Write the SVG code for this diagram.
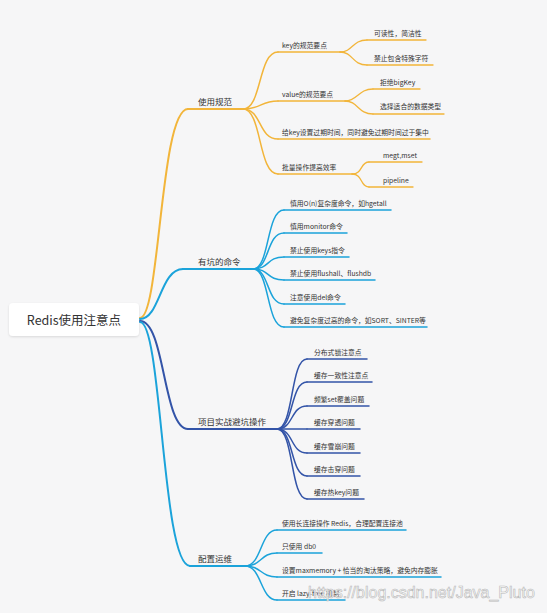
<svg xmlns="http://www.w3.org/2000/svg" width="547" height="613" viewBox="0 0 547 613">
<defs>
<filter id="sh" x="-10%" y="-30%" width="120%" height="160%">
<feDropShadow dx="0" dy="1" stdDeviation="1.2" flood-color="#000" flood-opacity="0.12"/>
</filter>
</defs>
<style>
text{font-family:"Noto Sans CJK SC","Noto Sans",sans-serif;fill:#333}
.root{font-size:12.5px;text-anchor:middle}
.l1{font-size:8.5px}
.l2{font-size:6.8px}
.c{fill:none;stroke-linecap:round}
.y{stroke:#F2B53A}
.b{stroke:#1BA3DA}
.d{stroke:#3354A8}
.m{stroke-width:2}
.s{stroke-width:1.5}
.t{stroke-width:1.3}
.wm{font-family:"Liberation Sans",Arial,sans-serif;font-size:16px;fill:#ffffff;fill-opacity:0.85;stroke:#b8b8b8;stroke-width:0.6}
</style>
<rect width="547" height="613" fill="#F6F6F7"/>

<g id="connectors">
<path class="c y m" d="M140,318 C160,318 160,109 188,109"/>
<path class="c b m" d="M140,319 C160,319 160,269 183,269"/>
<path class="c d m" d="M140,321 C165,321 163,429 188,429"/>
<path class="c b m" d="M140,322 C162,322 162,566 190,566"/>

<path class="c y s" d="M243,109 C262,109 258,52 278,52"/>
<path class="c y s" d="M243,109 C262,109 260,101 278,101"/>
<path class="c y s" d="M243,109 C262,109 258,139 278,139"/>
<path class="c y s" d="M243,109 C262,109 258,174 278,174"/>
<path class="c y t" d="M340,52 C353,52 352,40 367,40"/>
<path class="c y t" d="M340,52 C353,52 352,65 367,65"/>
<path class="c y t" d="M345,101 C358,101 358,89 373,89"/>
<path class="c y t" d="M345,101 C358,101 358,114 373,114"/>
<path class="c y t" d="M352,174 C363,174 360,162 369,162"/>
<path class="c y t" d="M352,174 C363,174 360,187 369,187"/>

<path class="c b s" d="M253,269 C270,269 266,210 284,210"/>
<path class="c b s" d="M253,269 C270,269 266,233 284,233"/>
<path class="c b s" d="M253,269 C270,269 266,257 284,257"/>
<path class="c b s" d="M253,269 C270,269 266,280 284,280"/>
<path class="c b s" d="M253,269 C270,269 266,304 284,304"/>
<path class="c b s" d="M253,269 C270,269 266,327 284,327"/>

<path class="c d s" d="M277,429 C294,429 290,359 307,359"/>
<path class="c d s" d="M277,429 C294,429 290,382 307,382"/>
<path class="c d s" d="M277,429 C294,429 290,406 307,406"/>
<path class="c d s" d="M277,429 L307,429"/>
<path class="c d s" d="M277,429 C294,429 290,453 307,453"/>
<path class="c d s" d="M277,429 C294,429 290,476 307,476"/>
<path class="c d s" d="M277,429 C294,429 290,499 307,499"/>

<path class="c b s" d="M245,566 C262,566 260,530 277,530"/>
<path class="c b s" d="M245,566 C262,566 260,553 277,553"/>
<path class="c b s" d="M245,566 C262,566 260,577 277,577"/>
<path class="c b s" d="M245,566 C262,566 260,600 277,600"/>
</g>

<g id="root">
<rect x="9" y="303" width="130" height="33" rx="4" fill="#ffffff" filter="url(#sh)"/>
<text class="root" x="74" y="324.5">Redis使用注意点</text>
</g>

<g id="b1">
<line class="c y m" x1="188" y1="109" x2="243" y2="109"/>
<text class="l1" x="198" y="105">使用规范</text>
</g>
<g id="b1-key">
<line class="c y s" x1="278" y1="52" x2="340" y2="52"/>
<text class="l2" x="282" y="48">key的规范要点</text>
</g>
<g id="b1-key-1">
<line class="c y t" x1="367" y1="40" x2="426" y2="40"/>
<text class="l2" x="374" y="36">可读性，简洁性</text>
</g>
<g id="b1-key-2">
<line class="c y t" x1="367" y1="65" x2="433" y2="65"/>
<text class="l2" x="374" y="61">禁止包含特殊字符</text>
</g>
<g id="b1-value">
<line class="c y s" x1="278" y1="101" x2="345" y2="101"/>
<text class="l2" x="282" y="97">value的规范要点</text>
</g>
<g id="b1-value-1">
<line class="c y t" x1="373" y1="89" x2="420" y2="89"/>
<text class="l2" x="380" y="85">拒绝bigKey</text>
</g>
<g id="b1-value-2">
<line class="c y t" x1="373" y1="114" x2="444" y2="114"/>
<text class="l2" x="380" y="109">选择适合的数据类型</text>
</g>
<g id="b1-expire">
<line class="c y s" x1="278" y1="139" x2="430" y2="139"/>
<text class="l2" x="282" y="135">给key设置过期时间，同时避免过期时间过于集中</text>
</g>
<g id="b1-batch">
<line class="c y s" x1="278" y1="174" x2="352" y2="174"/>
<text class="l2" x="282" y="170">批量操作提高效率</text>
</g>
<g id="b1-batch-1">
<line class="c y t" x1="369" y1="162" x2="422" y2="162"/>
<text class="l2" x="383" y="158">megt,mset</text>
</g>
<g id="b1-batch-2">
<line class="c y t" x1="369" y1="187" x2="413" y2="187"/>
<text class="l2" x="383" y="183">pipeline</text>
</g>

<g id="b2">
<line class="c b m" x1="183" y1="269" x2="253" y2="269"/>
<text class="l1" x="198" y="265">有坑的命令</text>
</g>
<g id="b2-1">
<line class="c b s" x1="284" y1="210" x2="391" y2="210"/>
<text class="l2" x="290" y="206">慎用O(n)复杂度命令，如hgetall</text>
</g>
<g id="b2-2">
<line class="c b s" x1="284" y1="233" x2="347" y2="233"/>
<text class="l2" x="290" y="229">慎用monitor命令</text>
</g>
<g id="b2-3">
<line class="c b s" x1="284" y1="257" x2="349" y2="257"/>
<text class="l2" x="290" y="253">禁止使用keys指令</text>
</g>
<g id="b2-4">
<line class="c b s" x1="284" y1="280" x2="375" y2="280"/>
<text class="l2" x="290" y="276">禁止使用flushall、flushdb</text>
</g>
<g id="b2-5">
<line class="c b s" x1="284" y1="304" x2="345" y2="304"/>
<text class="l2" x="290" y="300">注意使用del命令</text>
</g>
<g id="b2-6">
<line class="c b s" x1="284" y1="327" x2="427" y2="327"/>
<text class="l2" x="290" y="323">避免复杂度过高的命令，如SORT、SINTER等</text>
</g>

<g id="b3">
<line class="c d m" x1="188" y1="429" x2="277" y2="429"/>
<text class="l1" x="198" y="425">项目实战避坑操作</text>
</g>
<g id="b3-1">
<line class="c d s" x1="307" y1="359" x2="367" y2="359"/>
<text class="l2" x="314" y="355">分布式锁注意点</text>
</g>
<g id="b3-2">
<line class="c d s" x1="307" y1="382" x2="372" y2="382"/>
<text class="l2" x="314" y="378">缓存一致性注意点</text>
</g>
<g id="b3-3">
<line class="c d s" x1="307" y1="406" x2="369" y2="406"/>
<text class="l2" x="314" y="402">频繁set覆盖问题</text>
</g>
<g id="b3-4">
<line class="c d s" x1="307" y1="429" x2="360" y2="429"/>
<text class="l2" x="314" y="425">缓存穿透问题</text>
</g>
<g id="b3-5">
<line class="c d s" x1="307" y1="453" x2="360" y2="453"/>
<text class="l2" x="314" y="449">缓存雪崩问题</text>
</g>
<g id="b3-6">
<line class="c d s" x1="307" y1="476" x2="360" y2="476"/>
<text class="l2" x="314" y="472">缓存击穿问题</text>
</g>
<g id="b3-7">
<line class="c d s" x1="307" y1="499" x2="364" y2="499"/>
<text class="l2" x="314" y="495">缓存热key问题</text>
</g>

<g id="b4">
<line class="c b m" x1="190" y1="566" x2="245" y2="566"/>
<text class="l1" x="198" y="562">配置运维</text>
</g>
<g id="b4-1">
<line class="c b s" x1="277" y1="530" x2="406" y2="530"/>
<text class="l2" x="282" y="526">使用长连接操作 Redis，合理配置连接池</text>
</g>
<g id="b4-2">
<line class="c b s" x1="277" y1="553" x2="322" y2="553"/>
<text class="l2" x="282" y="549">只使用 db0</text>
</g>
<g id="b4-3">
<line class="c b s" x1="277" y1="577" x2="441" y2="577"/>
<text class="l2" x="282" y="573">设置maxmemory + 恰当的淘汰策略，避免内存膨胀</text>
</g>
<g id="b4-4">
<line class="c b s" x1="277" y1="600" x2="345" y2="600"/>
<text class="l2" x="282" y="596">开启 lazy-free 机制</text>
</g>

<text class="wm" x="308" y="598">https://blog.csdn.net/Java_Pluto</text>
</svg>
